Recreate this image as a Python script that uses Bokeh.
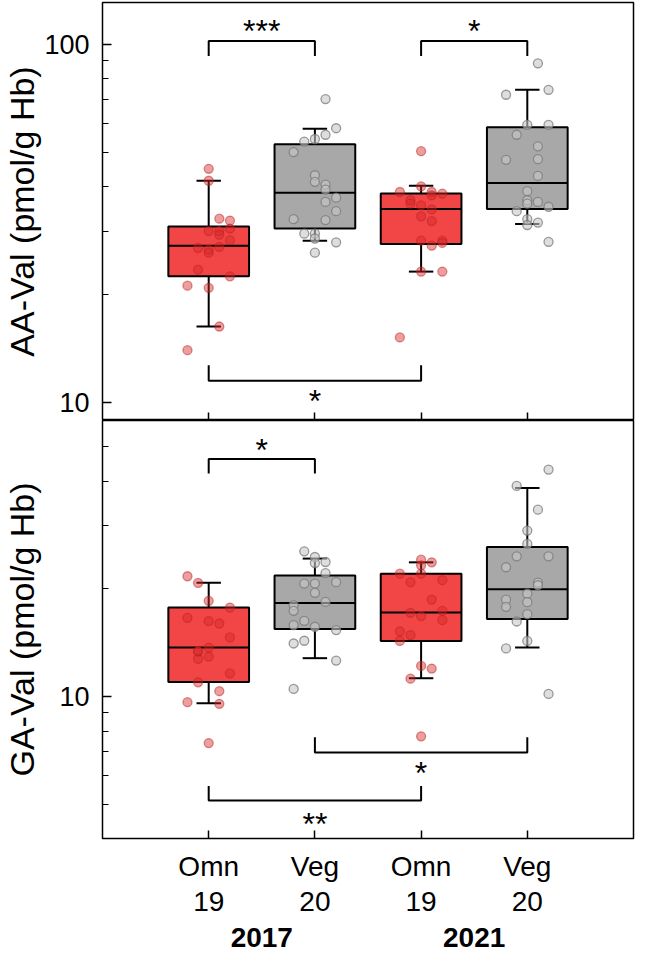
import numpy as np
from bokeh.plotting import figure
from bokeh.layouts import column
from bokeh.models import FixedTicker, LinearAxis, NumeralTickFormatter, Range1d
from bokeh.core.properties import value
from bokeh.embed import file_html
from bokeh.resources import INLINE

FONT = "Liberation Sans"

# ---------------- data ----------------
positions = [1, 2, 3, 4]
diet_labels = ["Omn", "Veg", "Omn", "Veg"]
n_labels = ["19", "20", "19", "20"]
year_positions = [1.5, 3.5]
year_labels = ["2017", "2021"]
group_kind = ["omn", "veg", "omn", "veg"]

# AA-Val (pmol/g Hb)
aa_major = [10, 100]
aa_minor = [20, 30, 40, 50, 60, 70, 80, 90]
aa_whisk_lo = [16.3, 28.3, 23.2, 31.5]
aa_q1 = [22.5, 30.6, 27.7, 34.7]
aa_med = [27.4, 38.5, 34.7, 41.0]
aa_q3 = [31.0, 52.6, 38.3, 58.7]
aa_whisk_hi = [41.6, 58.1, 40.3, 74.6]
aa_omn17 = [44.9, 41.6, 32.6, 32.2, 30.1, 30.1, 30.6, 29.4, 28.4, 27.2, 27.0, 26.7, 26.2, 23.5, 22.5, 21.2, 20.9, 16.3, 14.0]
aa_omn17_jit = [0, 0, 0.1, 0.2, 0, 0.1, 0.2, 0.1, 0.2, 0.1, -0.1, 0, 0, -0.1, 0.2, -0.2, 0, 0.1, -0.2]
aa_veg17 = [70.3, 58.3, 55.9, 54.4, 53.5, 50.0, 43.1, 41.3, 40.6, 39.3, 37.3, 36.3, 34.2, 32.5, 32.3, 29.6, 29.6, 28.7, 28.0, 26.2]
aa_veg17_jit = [0.1, 0.2, 0.1, 0, -0.1, -0.2, 0, 0, 0.1, 0.1, 0.2, 0.1, 0.2, -0.2, 0.1, -0.1, 0, 0, 0.2, 0]
aa_omn21 = [50.3, 38.7, 40.1, 38.7, 38.3, 36.7, 35.9, 35.5, 34.6, 33.1, 32.1, 28.3, 28.3, 27.4, 27.9, 23.2, 23.2, 37.9, 15.2]
aa_omn21_jit = [0, -0.2, 0, 0.1, 0.2, -0.1, -0.1, 0, 0.1, 0, 0.1, 0, 0.2, 0.1, 0.2, 0, 0.2, 0.1, -0.2]
aa_veg21 = [88.5, 72.3, 74.6, 59.6, 59.6, 55.9, 51.9, 47.6, 47.8, 42.9, 38.9, 36.7, 36.3, 35.9, 35.2, 34.2, 32.5, 31.8, 31.3, 28.1]
aa_veg21_jit = [0.1, -0.2, 0.2, 0, 0.2, -0.1, 0.1, -0.2, 0.1, 0.1, 0, 0, 0.1, 0, 0.2, -0.1, 0, 0.1, 0, 0.2]
aa_br_x0 = [1, 3, 1]
aa_br_x1 = [2, 4, 3]
aa_br_level = [102.1, 102.1, 11.5]
aa_br_end = [92.8, 92.8, 12.7]
aa_star_x = [1.5, 3.5, 2]
aa_star_y = [109.0, 109.0, 10.1]
aa_star_txt = ["***", "*", "*"]

# GA-Val (pmol/g Hb)
ga_major = [10]
ga_minor = [5, 6, 7, 8, 9, 20, 30, 40, 50]
ga_whisk_lo = [9.58, 12.8, 11.25, 13.72]
ga_q1 = [10.98, 15.45, 14.3, 16.46]
ga_med = [13.7, 18.25, 17.17, 19.95]
ga_q3 = [17.75, 21.8, 22.05, 26.17]
ga_whisk_hi = [20.8, 24.3, 23.72, 38.3]
ga_omn17 = [21.69, 20.77, 18.51, 17.73, 16.6, 16.25, 16.0, 14.63, 13.35, 13.7, 12.74, 12.93, 11.61, 10.96, 10.35, 9.64, 9.54, 7.41, 13.4]
ga_omn17_jit = [-0.2, -0.1, 0, 0.2, -0.2, 0, 0.1, 0.2, -0.1, 0, -0.1, 0, 0.2, -0.1, 0.1, -0.2, 0.1, 0, -0.1]
ga_veg17 = [25.46, 24.55, 23.62, 23.77, 22.14, 20.69, 20.69, 20.87, 19.49, 18.39, 18.0, 17.36, 16.28, 15.84, 15.67, 15.34, 14.07, 14.32, 12.6, 10.5]
ga_veg17_jit = [-0.1, 0, 0, 0.1, 0.1, -0.1, 0, 0.2, 0, 0.1, -0.2, -0.2, -0.1, -0.2, 0, 0.2, -0.2, -0.1, 0.2, -0.2]
ga_omn21 = [24.13, 23.72, 23.27, 22.05, 22.05, 20.87, 21.14, 18.66, 17.14, 16.78, 17.36, 16.35, 15.2, 14.85, 14.3, 12.18, 11.97, 11.22, 7.74]
ga_omn21_jit = [0, 0.1, 0, -0.2, 0, -0.1, 0.2, 0.1, -0.1, 0, 0.2, 0.2, -0.2, -0.1, -0.2, 0, 0.1, -0.1, 0]
ga_veg21 = [43.1, 38.8, 33.3, 29.1, 26.7, 24.65, 24.65, 22.98, 20.82, 20.47, 19.39, 18.66, 17.81, 18.36, 16.99, 16.21, 14.3, 13.63, 10.17]
ga_veg21_jit = [0.2, -0.1, 0.1, 0, 0, -0.1, 0.2, -0.2, 0.1, 0.1, 0, -0.2, -0.2, 0, 0, -0.1, 0, -0.2, 0.2]
ga_br_x0 = [1, 2, 1]
ga_br_x1 = [2, 4, 3]
ga_br_level = [46.1, 6.97, 5.12]
ga_br_end = [42.0, 7.70, 5.62]
ga_star_x = [1.5, 3, 2]
ga_star_y = [49.0, 6.12, 4.40]
ga_star_txt = ["*", "*", "**"]

# ---------------- styles ----------------
BOX_W = 0.76
CAP_W = 0.23
BOX_FILL = {"omn": "#f24646", "veg": "#a8a8a8"}
PT_FILL = {"omn": "#d42a2a", "veg": "#c8c8c8"}
PT_LINE = {"omn": "#c02020", "veg": "#7a7a7a"}
PT_FALPHA = {"omn": 0.45, "veg": 0.6}
PT_LALPHA = {"omn": 0.5, "veg": 0.75}


def make_panel(ylo, yhi, major, minor, ylabel, label_standoff, whisk_lo, q1, med, q3, whisk_hi,
               groups, jitters, br_x0, br_x1, br_level, br_end, star_x, star_y, star_txt,
               top_border, bottom_border, bottom_axis):
    p = figure(x_range=Range1d(0, 5), y_range=Range1d(ylo, yhi), y_axis_type="log",
               frame_width=531, frame_height=418, output_backend="svg", toolbar_location=None,
               min_border_left=97, min_border_right=2, min_border_top=top_border,
               min_border_bottom=bottom_border)
    p.grid.visible = False
    p.outline_line_color = "black"
    p.outline_line_width = 1.5
    p.background_fill_color = "white"
    p.border_fill_color = "white"

    pos = np.array(positions, dtype=float)
    colors = [BOX_FILL[k] for k in group_kind]
    # whiskers
    p.segment(x0=pos, x1=pos, y0=q3, y1=whisk_hi, line_color="black", line_width=2)
    p.segment(x0=pos, x1=pos, y0=q1, y1=whisk_lo, line_color="black", line_width=2)
    p.segment(x0=pos - CAP_W / 2, x1=pos + CAP_W / 2, y0=whisk_hi, y1=whisk_hi, line_color="black", line_width=2)
    p.segment(x0=pos - CAP_W / 2, x1=pos + CAP_W / 2, y0=whisk_lo, y1=whisk_lo, line_color="black", line_width=2)
    # boxes
    p.vbar(x=pos, bottom=q1, top=q3, width=BOX_W, fill_color=colors, line_color="black", line_width=2)
    p.segment(x0=pos - BOX_W / 2, x1=pos + BOX_W / 2, y0=med, y1=med, line_color="black", line_width=2)
    # points
    for i, (vals, jit) in enumerate(zip(groups, jitters)):
        k = group_kind[i]
        xs = [positions[i] + j for j in jit]
        p.scatter(x=xs, y=vals, size=9, fill_color=PT_FILL[k], fill_alpha=PT_FALPHA[k],
                  line_color=PT_LINE[k], line_alpha=PT_LALPHA[k], line_width=1.3)
    # brackets
    bxs = [[a, a, b, b] for a, b in zip(br_x0, br_x1)]
    bys = [[e, l, l, e] for l, e in zip(br_level, br_end)]
    p.multi_line(xs=bxs, ys=bys, line_color="black", line_width=2)
    p.text(x=star_x, y=star_y, text=star_txt, text_align="center", text_baseline="alphabetic",
           text_font=value(FONT), text_font_size="32px", text_color="black")

    ya = p.yaxis[0]
    ya.ticker = FixedTicker(ticks=major, minor_ticks=minor)
    ya.formatter = NumeralTickFormatter(format="0")
    ya.major_tick_in = 9
    ya.major_tick_out = 0
    ya.minor_tick_in = 6
    ya.minor_tick_out = 0
    ya.major_tick_line_width = 1.5
    ya.minor_tick_line_width = 1.2
    ya.axis_line_color = None
    ya.major_label_text_font = FONT
    ya.major_label_text_font_size = "27px"
    ya.major_label_text_color = "black"
    ya.major_label_standoff = 13
    ya.axis_label = ylabel
    ya.axis_label_text_font = FONT
    ya.axis_label_text_font_size = "34px"
    ya.axis_label_text_font_style = "normal"
    ya.axis_label_text_color = "black"
    ya.axis_label_standoff = label_standoff

    xa = p.xaxis[0]
    xa.ticker = FixedTicker(ticks=positions)
    xa.major_tick_in = 8
    xa.major_tick_out = 0
    xa.major_tick_line_width = 1.5
    xa.axis_line_color = None
    if bottom_axis:
        xa.major_label_overrides = dict(zip(positions, diet_labels))
        xa.major_label_text_font = FONT
        xa.major_label_text_font_size = "28px"
        xa.major_label_text_color = "black"
        xa.major_label_standoff = 12
        ax2 = LinearAxis(ticker=FixedTicker(ticks=positions),
                         major_label_overrides=dict(zip(positions, n_labels)),
                         major_tick_in=0, major_tick_out=0, axis_line_color=None,
                         major_label_standoff=7, major_label_text_font=FONT,
                         major_label_text_font_size="28px", major_label_text_color="black")
        p.add_layout(ax2, "below")
        ax3 = LinearAxis(ticker=FixedTicker(ticks=year_positions),
                         major_label_overrides=dict(zip(year_positions, year_labels)),
                         major_tick_in=0, major_tick_out=0, axis_line_color=None,
                         major_label_standoff=14, major_label_text_font=FONT,
                         major_label_text_font_size="28px", major_label_text_font_style="bold",
                         major_label_text_color="black")
        p.add_layout(ax3, "below")
    else:
        xa.major_label_overrides = {k: "" for k in positions}
        xa.major_label_text_font_size = "0px"
        xa.major_label_standoff = 0
    return p


p1 = make_panel(8.91, 130.8, aa_major, aa_minor, "AA-Val (pmol/g Hb)", 0,
                aa_whisk_lo, aa_q1, aa_med, aa_q3, aa_whisk_hi,
                [aa_omn17, aa_veg17, aa_omn21, aa_veg21],
                [aa_omn17_jit, aa_veg17_jit, aa_omn21_jit, aa_veg21_jit],
                aa_br_x0, aa_br_x1, aa_br_level, aa_br_end, aa_star_x, aa_star_y, aa_star_txt,
                top_border=2, bottom_border=0, bottom_axis=False)
p2 = make_panel(4.01, 59.1, ga_major, ga_minor, "GA-Val (pmol/g Hb)", 15,
                ga_whisk_lo, ga_q1, ga_med, ga_q3, ga_whisk_hi,
                [ga_omn17, ga_veg17, ga_omn21, ga_veg21],
                [ga_omn17_jit, ga_veg17_jit, ga_omn21_jit, ga_veg21_jit],
                ga_br_x0, ga_br_x1, ga_br_level, ga_br_end, ga_star_x, ga_star_y, ga_star_txt,
                top_border=0, bottom_border=124, bottom_axis=True)

layout = column(p1, p2, spacing=0)
open("out.html", "w").write(file_html(layout, INLINE))
